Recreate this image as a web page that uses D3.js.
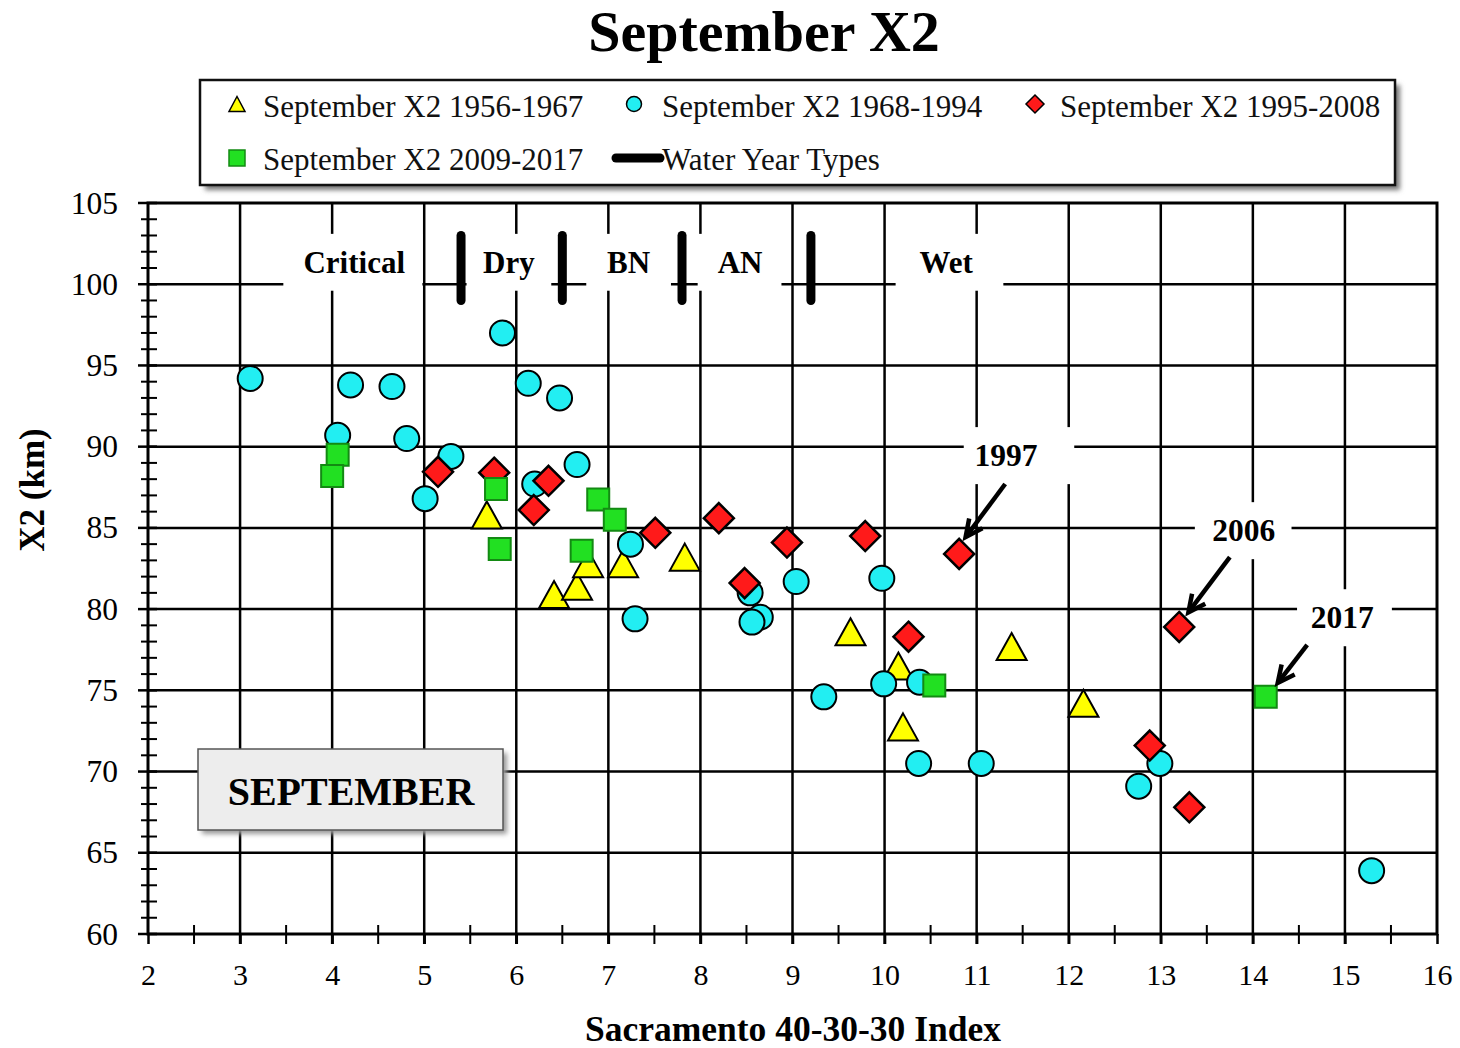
<!DOCTYPE html>
<html><head><meta charset="utf-8">
<script src="https://cdn.jsdelivr.net/npm/d3@7"></script>
<style>body{margin:0;background:#fff} svg{display:block}</style>
</head><body>
<svg id="chart" width="1460" height="1048"></svg>
<script>
// ---------------- DATA ----------------
const xTicks = [2,3,4,5,6,7,8,9,10,11,12,13,14,15,16];
const yTicks = [60,65,70,75,80,85,90,95,100,105];

// September X2 1956-1967 (yellow triangles) [index, X2]
const x2_1956_1967 = [
  [5.68,85.8],[6.41,80.9],[6.66,81.4],[6.78,82.8],[7.16,82.8],[7.83,83.2],
  [9.63,78.6],[10.15,76.5],[10.20,72.75],[11.38,77.7],[12.16,74.2]
];
// September X2 1968-1994 (cyan circles)
const x2_1968_1994 = [
  [3.11,94.2],[4.06,90.7],[4.20,93.8],[4.65,93.7],[4.81,90.5],[5.29,89.4],[5.01,86.8],
  [5.85,97.0],[6.13,93.9],[6.47,93.0],[6.66,88.9],[6.20,87.7],[7.24,84.0],[7.29,79.4],
  [8.54,81.0],[8.65,79.5],[8.56,79.2],[9.04,81.7],[9.97,81.9],[9.34,74.6],[9.99,75.4],
  [10.38,75.5],[10.37,70.5],[11.05,70.5],[12.99,70.5],[12.76,69.1],[15.29,63.9]
];
// September X2 1995-2008 (red diamonds)
const x2_1995_2008 = [
  [5.15,88.45],[5.76,88.4],[6.35,87.9],[6.19,86.1],[7.51,84.7],[8.20,85.6],[8.94,84.1],
  [8.48,81.6],[9.79,84.5],[10.81,83.4],[10.26,78.3],[13.20,78.9],[12.88,71.6],[13.31,67.8]
];
// September X2 2009-2017 (green squares)
const x2_2009_2017 = [
  [4.06,89.5],[4.00,88.2],[5.78,87.4],[5.82,83.7],[6.89,86.75],[7.07,85.5],[6.71,83.6],
  [10.54,75.3],[14.14,74.6]
];
// Water year type thresholds (Sacramento 40-30-30 index)
const waterYearThresholds = [5.4, 6.5, 7.8, 9.2];
const waterYearTypes = ["Critical","Dry","BN","AN","Wet"];
const waterYearLabelX = [4.24, 5.92, 7.22, 8.43, 10.67];
const waterYearBoxX = [[3.47,4.98],[5.46,6.38],[6.76,7.68],[7.97,8.88],[10.12,11.29]];
// annotated years: label, label position, arrow from -> to (data units)
const annotYears = ["1997","2006","2017"];
const annotLabelPos = [[11.32,89.48],[13.90,84.86],[14.97,79.5]];
const annotBoxX = [[10.86,12.06],[13.37,14.42],[14.48,15.51]];
const annotArrowFrom = [[11.31,87.7],[13.75,83.2],[14.59,77.8]];
const annotArrowTo = [[10.88,84.43],[13.30,79.8],[14.27,75.45]];
const legendLabels = ["September X2 1956-1967","September X2 1968-1994","September X2 1995-2008",
                      "September X2 2009-2017","Water Year Types"];

// ---------------- CHART ----------------
const svg = d3.select("#chart");
const FONT = "'Liberation Serif','Times New Roman',serif";
const L = 148, R = 1437, T = 203, B = 934;
const x = d3.scaleLinear().domain([2,16]).range([L,R]);
const y = d3.scaleLinear().domain([60,105]).range([B,T]);

const defs = svg.append("defs");
const f = defs.append("filter").attr("id","shadow").attr("x","-10%").attr("y","-20%").attr("width","120%").attr("height","150%");
f.append("feGaussianBlur").attr("stdDeviation",2.5);

// Title
svg.append("text").attr("x",764).attr("y",51).attr("text-anchor","middle")
  .attr("font-family",FONT).attr("font-weight","bold").attr("font-size",58).text("September X2");

// Legend
const lg = svg.append("g");
lg.append("rect").attr("x",205).attr("y",85).attr("width",1195).attr("height",105).attr("fill","#777").attr("filter","url(#shadow)");
lg.append("rect").attr("x",200).attr("y",80).attr("width",1195).attr("height",105).attr("fill","#fff").attr("stroke","#111").attr("stroke-width",2.5);

// Gridlines
const grid = svg.append("g").attr("stroke","#000").attr("stroke-width",2.5);
grid.selectAll("line.v").data(xTicks.filter(d=>d>2 && d<16)).join("line")
  .attr("x1",d=>x(d)).attr("x2",d=>x(d)).attr("y1",T).attr("y2",B+10);
grid.selectAll("line.h").data(yTicks.filter(d=>d>60 && d<105)).join("line").attr("class","h")
  .attr("x1",L).attr("x2",R).attr("y1",d=>y(d)).attr("y2",d=>y(d));

// white label boxes
const boxes = svg.append("g").attr("fill","#fff");
boxes.selectAll("rect.wy").data(waterYearBoxX).join("rect").attr("class","wy")
  .attr("x",d=>x(d[0])).attr("width",d=>x(d[1])-x(d[0])).attr("y",y(103.1)).attr("height",y(99.6)-y(103.1));
boxes.selectAll("rect.an").data(annotBoxX).join("rect").attr("class","an")
  .attr("x",d=>x(d[0])).attr("width",d=>x(d[1])-x(d[0]))
  .attr("y",(d,i)=>y(annotLabelPos[i][1])-28).attr("height",57);

// Axes
const xAxis = d3.axisBottom(x).tickValues(xTicks).tickSize(10).tickPadding(20).tickFormat(d3.format("d"));
const gx = svg.append("g").attr("transform",`translate(0,${B})`).call(xAxis);
gx.select(".domain").remove();
gx.selectAll(".tick line").attr("stroke","#000").attr("stroke-width",2.5);
gx.selectAll(".tick text").attr("font-family",FONT).attr("font-size",30).attr("fill","#000");

const yAxis = d3.axisLeft(y).tickValues(yTicks).tickSize(0).tickPadding(30);
const gy = svg.append("g").attr("transform",`translate(${L},0)`).call(yAxis);
gy.select(".domain").remove();
gy.selectAll(".tick text").attr("font-family",FONT).attr("font-size",31.5).attr("fill","#000");

// minor ticks
const minorX = d3.range(2.5,16,1);
svg.append("g").selectAll("line").data(minorX).join("line")
  .attr("x1",d=>x(d)).attr("x2",d=>x(d)).attr("y1",B-9).attr("y2",B+10).attr("stroke","#000").attr("stroke-width",2);
const minorY = d3.range(60,106,1);
svg.append("g").selectAll("line").data(minorY).join("line")
  .attr("x1",d=>d%5===0?L-10:L-7).attr("x2",L+9).attr("y1",d=>y(d)).attr("y2",d=>y(d))
  .attr("stroke","#000").attr("stroke-width",d=>d%5===0?2.5:2);

// frame
svg.append("rect").attr("x",L).attr("y",T).attr("width",R-L).attr("height",B-T)
  .attr("fill","none").attr("stroke","#000").attr("stroke-width",3);

// Water year type bars
svg.append("g").selectAll("line").data(waterYearThresholds).join("line")
  .attr("x1",d=>x(d)).attr("x2",d=>x(d)).attr("y1",y(103.0)).attr("y2",y(99.0))
  .attr("stroke","#000").attr("stroke-width",9).attr("stroke-linecap","round");
svg.append("g").selectAll("text").data(waterYearTypes).join("text")
  .attr("x",(d,i)=>x(waterYearLabelX[i])).attr("y",y(101.37)).attr("dy","0.35em")
  .attr("text-anchor","middle").attr("font-family",FONT).attr("font-weight","bold").attr("font-size",31)
  .text(d=>d);

// SEPTEMBER box
svg.append("rect").attr("x",202).attr("y",753).attr("width",305).attr("height",81).attr("fill","#999").attr("filter","url(#shadow)");
svg.append("rect").attr("x",198).attr("y",749).attr("width",305).attr("height",81).attr("fill","#ededed").attr("stroke","#555").attr("stroke-width",1.5);
svg.append("text").attr("x",351).attr("y",791).attr("dy","0.35em").attr("text-anchor","middle")
  .attr("font-family",FONT).attr("font-weight","bold").attr("font-size",40).text("SEPTEMBER");

// marker shapes
const triPath = (w,h)=>`M0,${-h/2}L${w/2},${h/2}L${-w/2},${h/2}Z`;
const diaPath = (s)=>`M0,${-s}L${s},0L0,${s}L${-s},0Z`;
const sqPath = (s)=>`M${-s/2},${-s/2}h${s}v${s}h${-s}Z`;
const COL = {yellow:"#ffff00", cyan:"#22eef2", red:"#ff1a1a", green:"#22e022", greenStroke:"#138a13"};

const pts = svg.append("g");
pts.selectAll("path.tri").data(x2_1956_1967).join("path").attr("class","tri")
  .attr("transform",d=>`translate(${x(d[0])},${y(d[1])})`).attr("d",triPath(30,27))
  .attr("fill",COL.yellow).attr("stroke","#000").attr("stroke-width",2).attr("stroke-linejoin","miter");
pts.selectAll("circle").data(x2_1968_1994).join("circle")
  .attr("cx",d=>x(d[0])).attr("cy",d=>y(d[1])).attr("r",12.5)
  .attr("fill",COL.cyan).attr("stroke","#000").attr("stroke-width",2);
pts.selectAll("path.dia").data(x2_1995_2008).join("path").attr("class","dia")
  .attr("transform",d=>`translate(${x(d[0])},${y(d[1])})`).attr("d",diaPath(15))
  .attr("fill",COL.red).attr("stroke","#000").attr("stroke-width",2.5);
pts.selectAll("path.sq").data(x2_2009_2017).join("path").attr("class","sq")
  .attr("transform",d=>`translate(${x(d[0])},${y(d[1])})`).attr("d",sqPath(22))
  .attr("fill",COL.green).attr("stroke",COL.greenStroke).attr("stroke-width",2);

// Annotations
const ann = svg.append("g");
annotYears.forEach((lab,i)=>{
  ann.append("text").attr("x",x(annotLabelPos[i][0])).attr("y",y(annotLabelPos[i][1])).attr("dy","0.35em")
    .attr("text-anchor","middle").attr("font-family",FONT).attr("font-weight","bold").attr("font-size",31.5).text(lab);
  const x1=x(annotArrowFrom[i][0]), y1=y(annotArrowFrom[i][1]), x2=x(annotArrowTo[i][0]), y2=y(annotArrowTo[i][1]);
  const ang=Math.atan2(y2-y1,x2-x1), hl=19, ha=0.45;
  ann.append("line").attr("x1",x1).attr("y1",y1).attr("x2",x2-Math.cos(ang)*3).attr("y2",y2-Math.sin(ang)*3)
    .attr("stroke","#000").attr("stroke-width",4.5);
  const p1=[x2-hl*Math.cos(ang-ha), y2-hl*Math.sin(ang-ha)], p2=[x2-hl*Math.cos(ang+ha), y2-hl*Math.sin(ang+ha)];
  ann.append("path").attr("d",`M${p1[0]},${p1[1]}L${x2},${y2}L${p2[0]},${p2[1]}`)
    .attr("fill","none").attr("stroke","#000").attr("stroke-width",4.5).attr("stroke-linejoin","miter");
});

// Axis titles
svg.append("text").attr("x",793).attr("y",1041).attr("text-anchor","middle")
  .attr("font-family",FONT).attr("font-weight","bold").attr("font-size",35.5).text("Sacramento 40-30-30 Index");
svg.append("text").attr("transform","translate(44,490) rotate(-90)").attr("text-anchor","middle")
  .attr("font-family",FONT).attr("font-weight","bold").attr("font-size",35).text("X2 (km)");

// Legend entries
const lgX = [237, 634, 1035, 237, 612];
const lgY = [106, 106, 106, 159, 159];
const lgTX = [263, 662, 1060, 263, 662];
legendLabels.forEach((lab,i)=>{
  lg.append("text").attr("x",lgTX[i]).attr("y",lgY[i]).attr("dy","0.35em")
    .attr("font-family",FONT).attr("font-size",31).attr("fill","#111").text(lab);
});
lg.append("path").attr("transform",`translate(${lgX[0]},${lgY[0]-2})`).attr("d",triPath(16,15))
  .attr("fill",COL.yellow).attr("stroke","#000").attr("stroke-width",1.5);
lg.append("circle").attr("cx",lgX[1]).attr("cy",lgY[1]-2).attr("r",7.5)
  .attr("fill",COL.cyan).attr("stroke","#000").attr("stroke-width",1.5);
lg.append("path").attr("transform",`translate(${lgX[2]},${lgY[2]-2})`).attr("d",diaPath(9))
  .attr("fill",COL.red).attr("stroke","#000").attr("stroke-width",1.5);
lg.append("path").attr("transform",`translate(${lgX[3]},${lgY[3]-1})`).attr("d",sqPath(16))
  .attr("fill",COL.green).attr("stroke",COL.greenStroke).attr("stroke-width",1.5);
lg.append("line").attr("x1",lgX[4]+4).attr("x2",660).attr("y1",lgY[4]-1).attr("y2",lgY[4]-1)
  .attr("stroke","#000").attr("stroke-width",9).attr("stroke-linecap","round");
</script>
</body></html>
